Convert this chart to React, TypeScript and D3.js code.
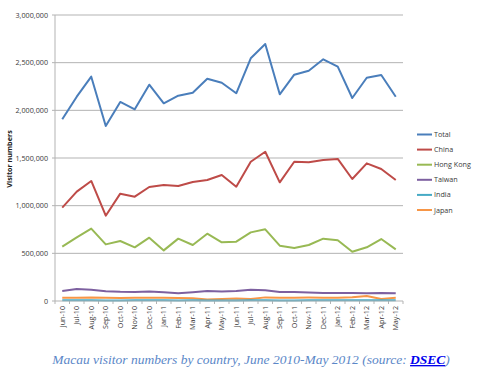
import React from "react";
import * as d3 from "d3";

const months = ["Jun-10","Jul-10","Aug-10","Sep-10","Oct-10","Nov-10","Dec-10","Jan-11","Feb-11","Mar-11","Apr-11","May-11","Jun-11","Jul-11","Aug-11","Sep-11","Oct-11","Nov-11","Dec-11","Jan-12","Feb-12","Mar-12","Apr-12","May-12"];
const total = [1906000,2143000,2353000,1836000,2088000,2011000,2269000,2074000,2154000,2185000,2332000,2290000,2179000,2546000,2696000,2168000,2374000,2416000,2535000,2458000,2129000,2342000,2371000,2143000];
const china = [979000,1147000,1259000,895000,1126000,1094000,1196000,1217000,1206000,1248000,1269000,1322000,1199000,1461000,1566000,1245000,1461000,1455000,1479000,1490000,1280000,1444000,1385000,1269000];
const hongKong = [570000,668000,759000,594000,629000,563000,664000,531000,654000,587000,706000,616000,622000,720000,752000,580000,556000,587000,654000,637000,517000,563000,650000,542000];
const taiwan = [105000,125000,118000,103000,97000,95000,100000,92000,82000,92000,105000,100000,105000,118000,112000,95000,95000,90000,85000,85000,85000,80000,85000,80000];
const india = [8000,7000,7000,6000,6000,7000,7000,7000,6000,7000,6000,6000,6000,7000,7000,6000,6000,7000,7000,7000,7000,7000,7000,8000];
const japan = [35000,33000,36000,35000,32000,34000,34000,33000,32000,30000,15000,22000,25000,22000,38000,35000,34000,36000,35000,33000,40000,52000,22000,33000];
const yTicks = [0,500000,1000000,1500000,2000000,2500000,3000000];

const seriesNames = ["Total","China","Hong Kong","Taiwan","India","Japan"];
const seriesData = [total, china, hongKong, taiwan, india, japan];
const colors = ["#4a7ebb","#be4b48","#98b954","#7d60a0","#46aac5","#f79646"];

export default function App() {
  const W = 480, H = 382;
  const left = 55, right = 403, top = 15, bottom = 301;
  const x = d3.scaleBand<string>().domain(months).range([left, right]);
  const y = d3.scaleLinear().domain([0, 3000000]).range([bottom, top]);
  const fmt = d3.format(",");
  const line = d3.line<number>()
    .x((_, i) => (x(months[i]) as number) + x.bandwidth() / 2)
    .y(d => y(d));
  const font = "'Open Sans', 'DejaVu Sans', sans-serif";
  const order = [5, 4, 3, 2, 1, 0];
  return (
    <svg width={W} height={H} style={{ position: "absolute", left: 0, top: 0, background: "#fff" }} fontFamily={font}>
      {yTicks.map(t => (
        <g key={t}>
          {t > 0 && <line x1={left} x2={right} y1={y(t)} y2={y(t)} stroke="#b3b3b3" strokeWidth={1} />}
          <text x={48} y={y(t)} dy="0.35em" textAnchor="end" fontSize={7.2} fill="#3a3a3a">{fmt(t)}</text>
          <line x1={left - 3} x2={left} y1={y(t)} y2={y(t)} stroke="#b3b3b3" />
        </g>
      ))}
      <line x1={left} x2={left} y1={top} y2={bottom} stroke="#b3b3b3" />
      {months.map(m => (
        <g key={m}>
          <line x1={x(m)} x2={x(m)} y1={bottom} y2={bottom + 3} stroke="#b3b3b3" />
          <text transform={`translate(${(x(m) as number) + x.bandwidth() / 2},${bottom + 5}) rotate(-90)`} dy="0.35em" textAnchor="end" fontSize={7.2} fill="#3a3a3a">{m}</text>
        </g>
      ))}
      <line x1={right} x2={right} y1={bottom} y2={bottom + 3} stroke="#b3b3b3" />
      <text transform={`translate(9,159) rotate(-90)`} dy="0.35em" textAnchor="middle" fontSize={7.2} fontWeight="bold" fill="#222">Visitor numbers</text>
      {order.map(i => (
        <path key={i} d={line(seriesData[i]) || ""} fill="none" stroke={colors[i]} strokeWidth={2} strokeLinejoin="round" />
      ))}
      <line x1={left} x2={right} y1={bottom} y2={bottom} stroke="#b3b3b3" />
      {seriesNames.map((n, i) => (
        <g key={n} transform={`translate(417,${134.5 + i * 15.1})`}>
          <line x1={0} x2={15} y1={0} y2={0} stroke={colors[i]} strokeWidth={2} />
          <text x={17} y={0} dy="0.35em" fontSize={7.2} fill="#3a3a3a">{n}</text>
        </g>
      ))}
      <text x={251} y={364} textAnchor="middle" fontSize={13.5} fontStyle="italic" fill="#5b87c8" fontFamily="'Liberation Serif', 'DejaVu Serif', serif">
        Macau visitor numbers by country, June 2010-May 2012 (source: <tspan fill="#0000ee" fontWeight="bold" textDecoration="underline">DSEC</tspan>)
      </text>
    </svg>
  );
}
